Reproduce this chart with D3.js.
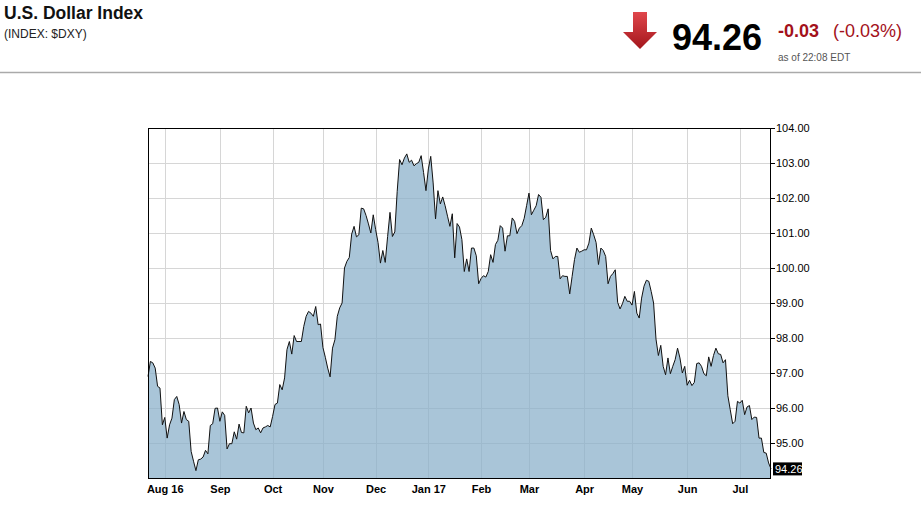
<!DOCTYPE html>
<html>
<head>
<meta charset="utf-8">
<script src="https://cdn.jsdelivr.net/npm/d3@7"></script>
<style>
  body { margin: 0; background: #fff; }
  svg { display: block; font-family: "Liberation Sans", Arial, sans-serif; }
</style>
</head>
<body>
<svg id="chart" width="921" height="519"></svg>
<script>
// daily closes, one per weekday starting Thu 21 Jul 2016
const startDate = new Date(2016, 6, 21);
const closes = [
  96.90, 97.33, 97.29, 97.14, 96.62, 96.57, 95.52, 95.73, 95.14, 95.52,
  95.71, 96.24, 96.33, 96.10, 95.57, 95.90, 95.67, 95.62, 94.76, 94.48,
  94.21, 94.52, 94.54, 94.60, 94.79, 94.69, 95.50, 95.55, 95.99, 96.00,
  95.62, 95.89, 95.79, 94.83, 94.98, 94.98, 95.32, 95.11, 95.54, 95.30,
  95.29, 96.05, 95.86, 96.00, 95.57, 95.38, 95.43, 95.29, 95.43, 95.46,
  95.50, 95.46, 95.76, 96.10, 96.14, 96.67, 96.52, 96.86, 97.67, 97.90,
  97.54, 98.07, 97.90, 97.90, 97.90, 98.33, 98.62, 98.76, 98.71, 98.62,
  98.90, 98.38, 98.40, 97.73, 97.45, 97.14, 96.89, 97.71, 97.95, 98.62,
  98.86, 99.00, 100.00, 100.19, 100.30, 100.97, 101.19, 100.89, 100.95, 101.71,
  101.69, 101.50, 101.26, 101.00, 101.52, 101.10, 100.73, 100.14, 100.50, 100.16,
  100.90, 101.59, 100.90, 101.03, 102.19, 103.10, 102.95, 103.14, 103.26, 103.02,
  103.08, 102.92, 102.98, 103.02, 103.21, 102.73, 102.21, 102.83, 103.19, 102.43,
  101.40, 102.21, 101.83, 102.03, 101.78, 101.48, 101.19, 101.55, 100.29, 101.27,
  101.17, 100.81, 99.90, 100.26, 99.90, 100.57, 100.57, 100.35, 99.55, 99.70,
  99.78, 99.74, 99.90, 100.38, 100.16, 100.67, 100.79, 101.21, 101.14, 100.48,
  100.92, 100.92, 101.43, 101.33, 100.98, 101.14, 101.21, 101.42, 101.78, 102.14,
  101.52, 101.65, 101.78, 102.10, 102.02, 101.38, 101.45, 101.69, 100.50, 100.26,
  100.33, 100.33, 99.69, 99.78, 99.76, 99.76, 99.26, 99.76, 100.24, 100.57,
  100.45, 100.48, 100.52, 100.52, 100.71, 101.14, 100.95, 100.73, 100.10, 100.57,
  100.50, 100.33, 99.55, 99.76, 99.84, 99.95, 99.02, 98.83, 98.98, 99.19,
  99.05, 99.05, 98.94, 99.33, 98.71, 98.57, 99.14, 99.48, 99.65, 99.62,
  99.33, 99.00, 97.97, 97.50, 97.79, 97.19, 96.95, 97.43, 96.98, 97.19,
  97.38, 97.71, 97.43, 97.00, 97.19, 96.65, 96.79, 96.64, 96.73, 97.27,
  97.29, 97.19, 96.98, 96.92, 97.46, 97.19, 97.50, 97.71, 97.55, 97.53,
  97.29, 97.38, 96.35, 95.95, 95.55, 95.62, 96.19, 96.14, 96.22, 95.81,
  96.03, 96.07, 95.67, 95.74, 95.73, 95.14, 95.14, 94.73, 94.71, 94.43,
  94.26
];
const yTicks = [95, 96, 97, 98, 99, 100, 101, 102, 103, 104];
const monthLabels = ["Aug 16", "Sep", "Oct", "Nov", "Dec", "Jan 17",
                     "Feb", "Mar", "Apr", "May", "Jun", "Jul"];

const lastValue = "94.26";
const change = "-0.03";
const changePct = "(-0.03%)";
const asOf = "as of 22:08 EDT";

// build weekday dates for each close
const dates = [];
let d = new Date(startDate);
while (dates.length < closes.length) {
  if (d.getDay() !== 0 && d.getDay() !== 6) dates.push(new Date(d));
  d.setDate(d.getDate() + 1);
}
const data = closes.map((v, i) => ({ i: i, date: dates[i], close: v }));

// index of first trading day in each month after the start
const monthStarts = [];
data.forEach((p, i) => {
  if (i > 0 && p.date.getMonth() !== data[i - 1].date.getMonth()) monthStarts.push(i);
});

const svg = d3.select("#chart");
const plotL = 148, plotR = 771, plotT = 128, plotB = 478;

const x = d3.scaleLinear().domain([0, closes.length - 1]).range([plotL, plotR]);
const y = d3.scaleLinear().domain([94, 104]).range([plotB, plotT]);

// header
svg.append("text").attr("x", 4).attr("y", 19)
  .attr("font-size", "17.5px").attr("font-weight", "bold").attr("fill", "#111")
  .text("U.S. Dollar Index");
svg.append("text").attr("x", 4).attr("y", 38)
  .attr("font-size", "12px").attr("fill", "#222")
  .text("(INDEX: $DXY)");

const defs = svg.append("defs");
const grad = defs.append("linearGradient").attr("id", "arrowGrad")
  .attr("x1", 0).attr("y1", 0).attr("x2", 0).attr("y2", 1);
grad.append("stop").attr("offset", "0%").attr("stop-color", "#e0474c");
grad.append("stop").attr("offset", "100%").attr("stop-color", "#a3161c");

svg.append("path")
  .attr("d", "M633,12 L647,12 L647,32 L657,32 L640,49 L623,32 L633,32 Z")
  .attr("fill", "url(#arrowGrad)");

svg.append("text").attr("x", 672).attr("y", 50)
  .attr("font-size", "36px").attr("font-weight", "bold").attr("fill", "#000")
  .text(lastValue);
svg.append("text").attr("x", 778).attr("y", 37)
  .attr("font-size", "18px").attr("font-weight", "bold").attr("fill", "#a3111b")
  .text(change);
svg.append("text").attr("x", 833).attr("y", 37)
  .attr("font-size", "18px").attr("fill", "#a3111b")
  .text(changePct);
svg.append("text").attr("x", 778).attr("y", 61)
  .attr("font-size", "10px").attr("fill", "#555")
  .text(asOf);

svg.append("line").attr("x1", 0).attr("x2", 921).attr("y1", 72.5).attr("y2", 72.5)
  .attr("stroke", "#aaa").attr("stroke-width", 1.5);

// grid
const grid = svg.append("g");
grid.selectAll(".hg").data(yTicks.slice(0, -1)).enter().append("line")
  .attr("x1", plotL).attr("x2", plotR)
  .attr("y1", v => Math.round(y(v)) + 0.5).attr("y2", v => Math.round(y(v)) + 0.5)
  .attr("stroke", "#d6d6d6");
grid.selectAll(".vg").data(monthStarts).enter().append("line")
  .attr("y1", plotT).attr("y2", plotB)
  .attr("x1", i => Math.round(x(i)) + 0.5).attr("x2", i => Math.round(x(i)) + 0.5)
  .attr("stroke", "#d6d6d6");

// area + line
const area = d3.area().x(p => x(p.i)).y0(plotB).y1(p => y(p.close));
const line = d3.line().x(p => x(p.i)).y(p => y(p.close));

svg.append("path").datum(data).attr("d", area)
  .attr("fill", "#88aec9").attr("fill-opacity", 0.72);
svg.append("path").datum(data).attr("d", line)
  .attr("fill", "none").attr("stroke", "#111").attr("stroke-width", 1);

// frame
svg.append("rect").attr("x", plotL + 0.5).attr("y", plotT + 0.5)
  .attr("width", plotR - plotL - 1).attr("height", plotB - plotT)
  .attr("fill", "none").attr("stroke", "#000");

// right axis
const yAxis = d3.axisRight(y).tickValues(yTicks).tickSize(4).tickPadding(1)
  .tickFormat(d3.format(".2f"));
const gy = svg.append("g").attr("transform", `translate(${plotR},0)`).call(yAxis);
gy.select(".domain").remove();
gy.selectAll("text").attr("font-size", "11px").attr("font-family", "Liberation Sans, Arial, sans-serif")
  .attr("fill", "#000");
gy.selectAll("line").attr("stroke", "#000");

// last value tag
const lastY = y(closes[closes.length - 1]);
svg.append("rect").attr("x", 773).attr("y", lastY - 6.5).attr("width", 29).attr("height", 13)
  .attr("fill", "#000");
svg.append("text").attr("x", 775).attr("y", lastY + 4)
  .attr("font-size", "11px").attr("fill", "#fff")
  .text(lastValue);

// bottom axis
const xAxis = d3.axisBottom(x).tickValues(monthStarts).tickSize(0).tickPadding(7)
  .tickFormat((v, k) => monthLabels[k]);
const gx = svg.append("g").attr("transform", `translate(0,${plotB})`).call(xAxis);
gx.select(".domain").remove();
gx.selectAll("text").attr("font-size", "11px").attr("font-weight", "bold")
  .attr("font-family", "Liberation Sans, Arial, sans-serif").attr("fill", "#000");
</script>
</body>
</html>
